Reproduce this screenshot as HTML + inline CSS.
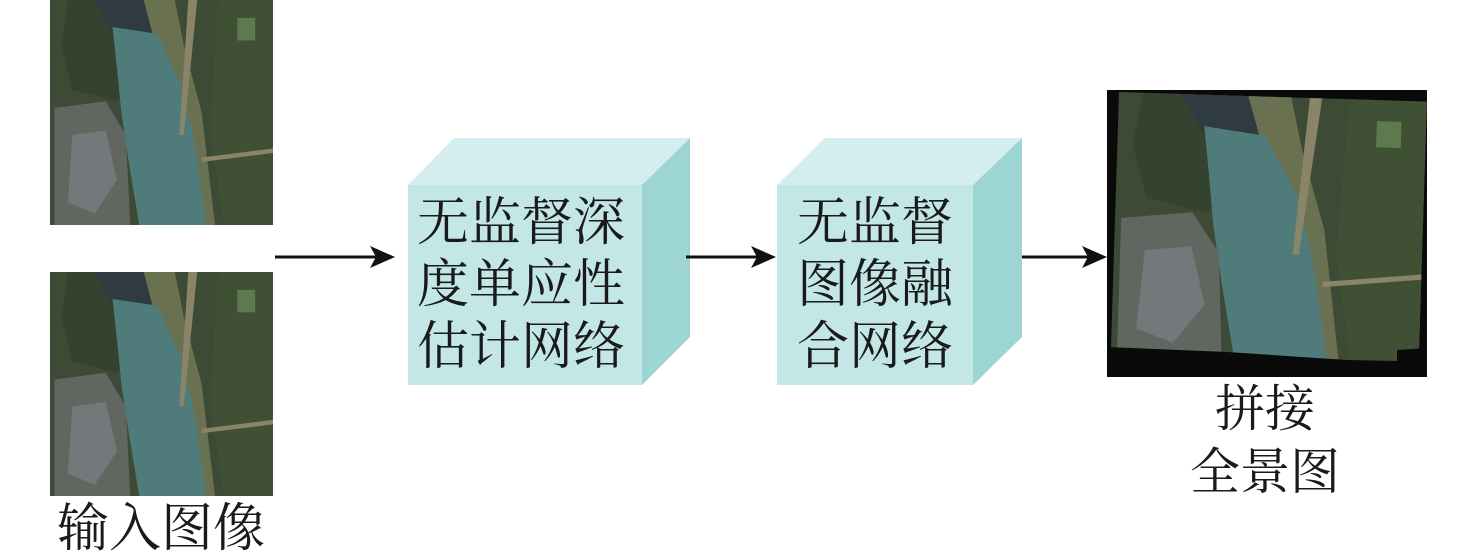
<!DOCTYPE html>
<html><head><meta charset="utf-8"><style>
html,body{margin:0;padding:0;background:#fff}
svg{display:block}
text{font-family:"Liberation Serif","Noto Serif CJK SC",serif;fill:#1a1a1a}
</style></head><body>
<svg width="1476" height="560" viewBox="0 0 1476 560" xmlns="http://www.w3.org/2000/svg">
<defs>
<g id="aer">
<rect x="0" y="0" width="100" height="100" fill="#3d4a36"/>
<polygon points="8,0 45,0 40,30 30,45 10,40 5,20" fill="#344230"/>
<polygon points="20,0 45,0 48,15 40,25 32,30 28,15" fill="#2f3b40"/>
<polygon points="42,0 56,0 60,20 68,50 74,100 66,100 62,60 50,30" fill="#6a7150"/>
<polygon points="28,12 48,15 60,40 66,70 70,100 40,100 35,70 32,50 30,30" fill="#4f7c7b"/>
<polygon points="2,48 25,45 34,60 36,100 2,100" fill="#626660"/>
<polygon points="10,60 25,58 30,80 20,95 8,90" fill="#74787a"/>
<polygon points="62,0 66,0 62,40 60,60 58,60 60,30" fill="#8a8468"/>
<polygon points="75,0 100,0 100,100 78,100 72,60" fill="#3f5034"/>
<rect x="84" y="8" width="8" height="10" fill="#5d7a4e"/>
<polygon points="68,70 100,66 100,68 68,72" fill="#8a8468"/>
</g>
</defs>

<g transform="translate(50,0) scale(2.23,2.25)"><use href="#aer"/></g>
<g transform="translate(50,272) scale(2.23,2.24)"><use href="#aer"/></g>
<text x="161" y="546" font-size="52" text-anchor="middle">输入图像</text>

<line x1="275" y1="257" x2="392" y2="257" stroke="#111" stroke-width="3"/>
<polygon points="395,257 370,246 376,257 370,268" fill="#111"/>
<line x1="686" y1="257" x2="772" y2="257" stroke="#111" stroke-width="3"/>
<polygon points="776,257 751,246 757,257 751,268" fill="#111"/>
<line x1="1005" y1="257" x2="1103" y2="257" stroke="#111" stroke-width="3"/>
<polygon points="1107,257 1082,246 1088,257 1082,268" fill="#111"/>

<polygon points="408,185 454,138 690,138 642,185" fill="#d4eded"/>
<polygon points="642,185 690,138 690,337 642,385" fill="#9dd5d5"/>
<rect x="408" y="185" width="234" height="200" fill="#c3e7e7"/>
<text font-size="52" x="417" y="240">无监督深</text>
<text font-size="52" x="417" y="302">度单应性</text>
<text font-size="52" x="417" y="364">估计网络</text>
<line x1="686" y1="257" x2="690" y2="257" stroke="#111" stroke-width="3"/>

<polygon points="777,185 825,138 1022,138 973,185" fill="#d4eded"/>
<polygon points="973,185 1022,138 1022,337 973,385" fill="#9dd5d5"/>
<rect x="777" y="185" width="196" height="200" fill="#c3e7e7"/>
<text font-size="52" x="797" y="240">无监督</text>
<text font-size="52" x="797" y="302">图像融</text>
<text font-size="52" x="797" y="364">合网络</text>

<rect x="1107" y="90" width="320" height="287" fill="#0a0a0a"/>
<svg x="1107" y="90" width="320" height="287">
<g transform="translate(12,2) rotate(1.8) scale(3.08,2.62)"><use href="#aer"/></g>
<polygon points="0,257 120,262 240,270 290,271 290,260 320,258 320,287 0,287" fill="#0a0a0a"/>
</svg>
<text x="1265" y="426" font-size="50" text-anchor="middle">拼接</text>
<text x="1265" y="489" font-size="50" text-anchor="middle">全景图</text>
</svg>
</body></html>
